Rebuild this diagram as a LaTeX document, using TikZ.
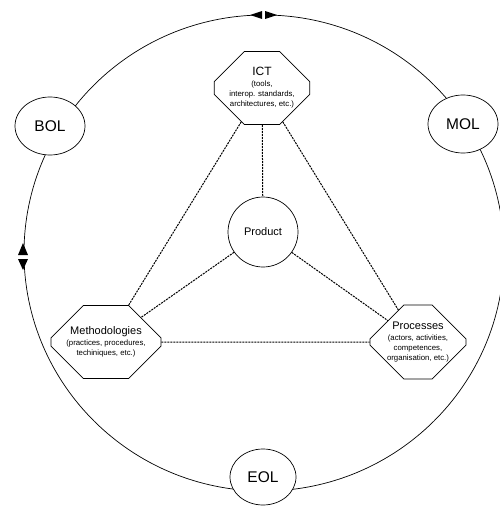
\documentclass[tikz,border=0pt]{standalone}
\usepackage{fontspec}
\setmainfont{Liberation Sans}
\usetikzlibrary{shapes.geometric,shapes.misc}
\newcommand\subf{\fontsize{7.8}{9}\selectfont}
\begin{document}
\begin{tikzpicture}[x=1pt,y=-1pt,
  oct/.style={chamfered rectangle, chamfered rectangle xsep=15pt, chamfered rectangle ysep=15pt,
    draw, fill=white, line width=0.7pt, minimum width=95pt, minimum height=73pt,
    inner sep=0pt, align=center, font=\fontsize{11}{12}\selectfont},
  octnarrow/.style={oct, minimum width=88pt, chamfered rectangle xsep=17pt, chamfered rectangle ysep=17pt},
  life/.style={ellipse, draw, fill=white, line width=0.7pt, minimum width=70pt, minimum height=58pt,
    inner sep=0pt, font=\fontsize{15.5}{16}\selectfont},
  prodst/.style={circle, draw, fill=white, line width=0.7pt, minimum size=70pt, inner sep=0pt,
    font=\fontsize{11}{12}\selectfont},
  link/.style={line width=1pt, dash pattern=on 2pt off 1pt},
  ring/.style={line width=0.7pt}]
\useasboundingbox (0,0) rectangle (500,506);
% life-cycle ring
\draw[ring] (264,253) ellipse [x radius=240pt, y radius=238pt];
% arrow marks on the ring
\fill[white] (262,10) rectangle (266,20);
\fill (262,11) -- (250,15) -- (262,19) -- cycle;
\fill (265,11) -- (277,15) -- (265,19) -- cycle;
\fill[white] (17,255) rectangle (29,259);
\fill (18,255) -- (23,243) -- (28,255) -- cycle;
\fill (18,259) -- (23,270) -- (28,259) -- cycle;
% nodes
\node[oct] (ict) at (262,88) {{\fontsize{12}{13}\selectfont ICT}\\[-1pt]{\subf (tools,}\\[-2pt]{\subf interop. standards,}\\[-2pt]{\subf architectures, etc.)}};
\node[prodst] (prod) at (263,232) {Product};
\node[octnarrow] (meth) at (106,342) {Methodologies\\[-1pt]{\subf (practices, procedures,}\\[-2pt]{\subf techiniques, etc.)}};
\node[octnarrow] (proc) at (418,342) {Processes\\[-1pt]{\subf (actors, activities,}\\[-2pt]{\subf competences,}\\[-2pt]{\subf organisation, etc.)}};
% connectors
\draw[link] (ict) -- (prod);
\draw[link] (ict) -- (meth);
\draw[link] (ict) -- (proc);
\draw[link] (meth) -- (proc);
\draw[link] (prod) -- (meth);
\draw[link] (prod) -- (proc);
% life-cycle phases
\node[life] (bol) at (50,126) {BOL};
\node[life] (mol) at (463,124) {MOL};
\node[life, minimum width=66pt, minimum height=56pt] (eol) at (263,477) {EOL};
\end{tikzpicture}
\end{document}
